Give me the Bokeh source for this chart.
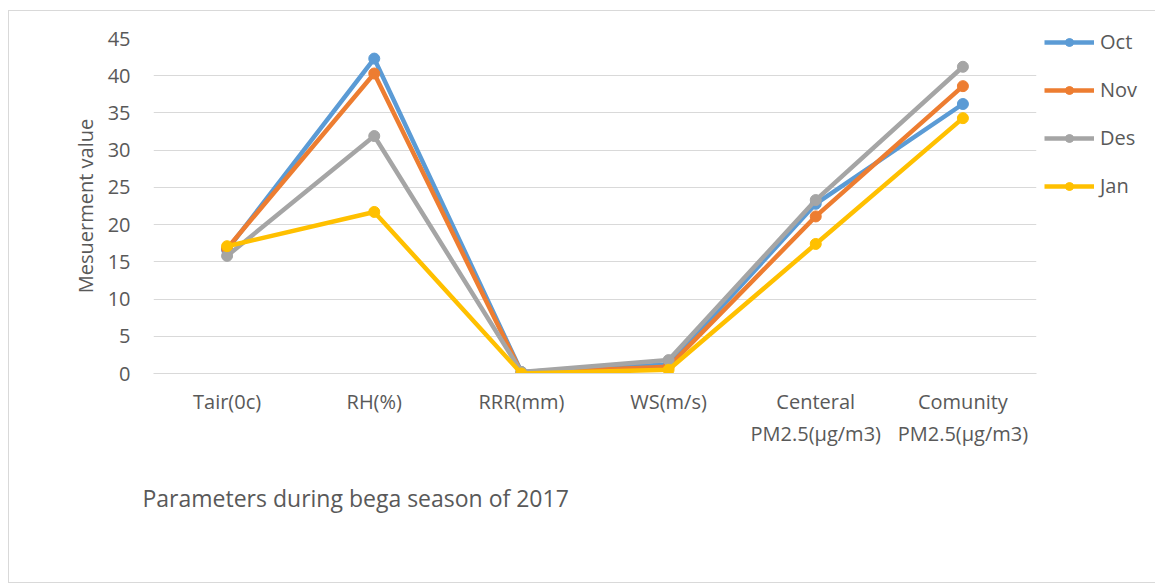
from bokeh.plotting import figure
from bokeh.models import Legend, LegendItem, Title, ColumnDataSource
from bokeh.embed import file_html
from bokeh.resources import INLINE

categories = ["Tair(0c)", "RH(%)", "RRR(mm)", "WS(m/s)", "Centeral\nPM2.5(µg/m3)", "Comunity\nPM2.5(µg/m3)"]
oct_vals = [16.6, 42.3, 0.2, 1.2, 22.8, 36.2]
nov_vals = [16.8, 40.3, 0.1, 0.9, 21.1, 38.6]
des_vals = [15.8, 31.9, 0.2, 1.8, 23.3, 41.2]
jan_vals = [17.1, 21.7, 0.0, 0.5, 17.4, 34.3]
series_names = ["Oct", "Nov", "Des", "Jan"]
series_vals = [oct_vals, nov_vals, des_vals, jan_vals]
colors = ["#5B9BD5", "#ED7D31", "#A5A5A5", "#FFC000"]
y_ticks = [0, 5, 10, 15, 20, 25, 30, 35, 40, 45]

FONT = "Open Sans"
TXT = "#595959"
FS = "20px"

p = figure(x_range=categories, y_range=(0, 45), frame_width=883, frame_height=335,
           output_backend="svg", toolbar_location=None, margin=(10, 0, 0, 8),
           min_border_left=144, min_border_right=110, min_border_top=27, min_border_bottom=209)
p.styles = {"border": "1px solid #d9d9d9"}
p.outline_line_color = None
p.background_fill_color = "white"
p.border_fill_color = "white"

p.xgrid.grid_line_color = None
p.ygrid.grid_line_color = "#d9d9d9"
p.ygrid.grid_line_width = 1
p.yaxis.ticker = y_ticks
p.yaxis.axis_line_color = None
p.yaxis.major_tick_line_color = None
p.yaxis.minor_tick_line_color = None
p.yaxis.major_label_text_font = FONT
p.yaxis.major_label_text_font_size = FS
p.yaxis.major_label_text_color = TXT
p.yaxis.major_label_standoff = 17
p.yaxis.axis_label = "Mesuerment value"
p.yaxis.axis_label_text_font = FONT
p.yaxis.axis_label_text_font_size = "20px"
p.yaxis.axis_label_text_font_style = "normal"
p.yaxis.axis_label_text_color = TXT
p.yaxis.axis_label_standoff = 6

p.xaxis.axis_line_color = "#d9d9d9"
p.xaxis.major_tick_line_color = None
p.xaxis.minor_tick_line_color = None
p.xaxis.major_label_text_font = FONT
p.xaxis.major_label_text_font_size = FS
p.xaxis.major_label_text_color = TXT
p.xaxis.major_label_standoff = 8
p.x_range.range_padding = 0

items = []
for name, vals, c in zip(series_names, series_vals, colors):
    src = ColumnDataSource(dict(x=categories, y=vals))
    ln = p.line("x", "y", source=src, line_color=c, line_width=4.5)
    sc = p.scatter("x", "y", source=src, size=11, fill_color=c, line_color=c)
    items.append(LegendItem(label=name, renderers=[ln, sc]))

legend = Legend(items=items, location=(8, 174), orientation="vertical",
                glyph_width=50, glyph_height=20, label_height=20, spacing=21, padding=0, margin=0,
                label_text_font=FONT, label_text_font_size="20px", label_text_color=TXT,
                label_standoff=6, border_line_color=None, background_fill_alpha=0)
p.add_layout(legend, "right")

note = Title(text="Parameters during bega season of 2017", align="left", offset=-11,
             standoff=60, text_font=FONT, text_font_size="23px",
             text_font_style="normal", text_color=TXT)
p.add_layout(note, "below")

open("out.html", "w").write(file_html(p, INLINE))
